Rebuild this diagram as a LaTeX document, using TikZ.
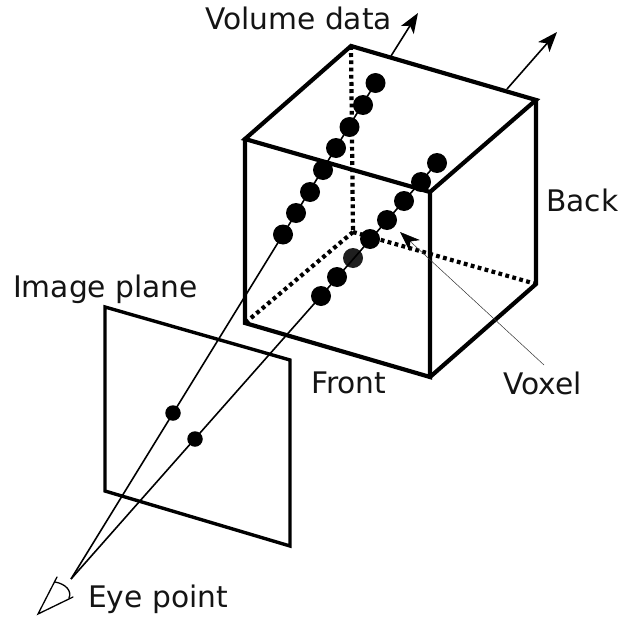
\documentclass[tikz,border=0pt]{standalone}
\usepackage{fontspec}
\setmainfont{DejaVu Sans}
\usetikzlibrary{arrows.meta}
\tikzset{
  edge/.style={line width=4.2pt,line join=miter,line cap=round},
  hidden/.style={line width=4.2pt,dash pattern=on 3.8pt off 3.4pt,line join=miter},
  ray/.style={line width=1.6pt},
  out arrow/.style={line width=1.6pt,-{Stealth[length=20pt,width=15pt,inset=5pt]}},
  thin arrow/.style={line width=0.5pt,draw=black!80,-{Stealth[length=20pt,width=15pt,inset=6pt,fill=black,color=black]}},
  bead/.style={circle,fill=black,inner sep=0pt,minimum size=20pt},
  dot/.style={circle,fill=black,inner sep=0pt,minimum size=15.5pt},
  plane/.style={line width=3.4pt,line join=miter},
  lab/.style={font=\fontsize{29.7}{32}\selectfont,inner sep=0pt,text=black!92},
  eyeline/.style={line width=1.3pt,line cap=round}
}
\begin{document}
\begin{tikzpicture}[x=1pt,y=-1pt]
\useasboundingbox (0,0) rectangle (634,618);
% cube corners
\coordinate (tb) at (351,46);
\coordinate (tr) at (536,100);
\coordinate (tl) at (245,139);
\coordinate (tf) at (430,192);
\coordinate (bf) at (430,377);
\coordinate (bl) at (245,323);
\coordinate (bc) at (353,232);
\coordinate (br) at (536,284);
% arrows' free ends
\coordinate (a1s) at (391,56);
\coordinate (a1e) at (418,13);
\coordinate (a2s) at (507,89);
\coordinate (a2e) at (557,32);
\coordinate (vs) at (544,365);
\coordinate (ve) at (400,232);
\coordinate (eye) at (71,579);
% hidden edges
\draw[hidden] (tb) -- (bc);
\draw[hidden] (bc) -- (bl);
\draw[hidden] (bc) -- (br);
% visible edges
\draw[edge] (tb) -- (tr) -- (tf) -- (tl) -- cycle;
\draw[edge] (tl) -- (bl) -- (bf) -- (tf);
\draw[edge] (tr) -- (br) -- (bf);
% outward arrows
\draw[out arrow] (a1s) -- (a1e);
\draw[out arrow] (a2s) -- (a2e);
% image plane
\draw[plane] (105,307) -- (290,360) -- (290,546) -- (105,491) -- cycle;
% beads
\foreach \n/\p in {1/{375.5,83},2/{363,105},3/{349.5,127},4/{336,148},5/{323,170},6/{310,192},7/{296,213},8/{283,234.5}}
  \node[bead] (a\n) at (\p) {};
\foreach \n/\p in {1/{437,163},2/{421,182},3/{404,201},4/{387,220},5/{370,239},7/{337,277},8/{321,296}}
  \node[bead] (b\n) at (\p) {};
\node[bead,fill=black!88] (b6) at (353,258) {};
% rays
\draw[ray] (a1.center) -- (a8.center);
\draw[ray] (b1.center) -- (b8.center);
\node[dot] (p1) at (173,413) {};
\node[dot] (p2) at (195,439) {};
\draw[ray] (a8.center) -- (eye);
\draw[ray] (b8.center) -- (eye);
% voxel arrow
\draw[thin arrow] (vs) -- (ve);
% eye
\draw[eyeline] (57,577) -- (38,614) -- (73,597);
\draw[eyeline] (55,582) .. controls (66,584) and (72,591) .. (69,598);
% labels
\node[lab,anchor=base west] (lv) at (205,30) {Volume data};
\node[lab,anchor=base west] (lb) at (546,211) {Back};
\node[lab,anchor=base west] (li) at (13,297) {Image plane};
\node[lab,anchor=base west] (lf) at (311,393) {Front};
\node[lab,anchor=base west] (lx) at (503,394) {Voxel};
\node[lab,anchor=base west] (le) at (88,607) {Eye point};
\end{tikzpicture}
\end{document}
